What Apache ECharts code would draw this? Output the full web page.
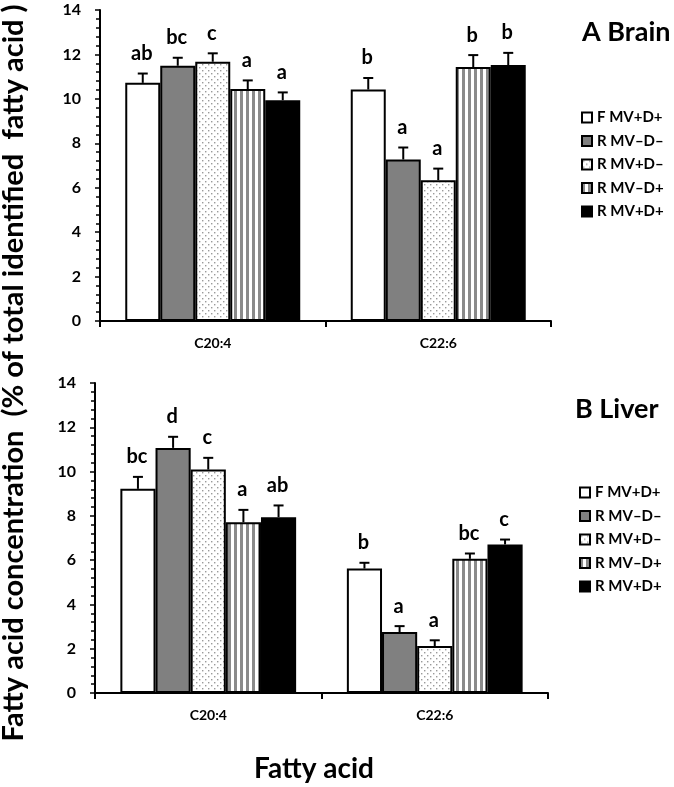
<!DOCTYPE html>
<html><head><meta charset="utf-8">
<script src="https://cdn.jsdelivr.net/npm/echarts@6/dist/echarts.min.js"></script>
<style>html,body{margin:0;padding:0;background:#fff}#c{width:674px;height:787px}</style>
</head><body><div id="c"></div>
<script>
// ---------- data ----------
const categories = ['C20:4', 'C22:6'];
const seriesNames = ['F MV+D+', 'R MV–D–', 'R MV+D–', 'R MV–D+', 'R MV+D+'];
const yMin = 0, yMax = 14, yStep = 2;

// A Brain (values per series, [C20:4, C22:6])
const brainF   = [10.72, 10.42];
const brainRmm = [11.49, 7.27];
const brainRpm = [11.67, 6.34];
const brainRmp = [10.44, 11.43];
const brainRpp = [9.94, 11.52];
const brainErrF   = [0.42, 0.52];
const brainErrRmm = [0.36, 0.54];
const brainErrRpm = [0.38, 0.52];
const brainErrRmp = [0.39, 0.54];
const brainErrRpp = [0.35, 0.55];
const brainLetF   = ['ab', 'b'];
const brainLetRmm = ['bc', 'a'];
const brainLetRpm = ['c', 'a'];
const brainLetRmp = ['a', 'b'];
const brainLetRpp = ['a', 'b'];

// B Liver
const liverF   = [9.22, 5.62];
const liverRmm = [11.07, 2.75];
const liverRpm = [10.09, 2.12];
const liverRmp = [7.71, 6.06];
const liverRpp = [7.94, 6.71];
const liverErrF   = [0.54, 0.26];
const liverErrRmm = [0.50, 0.27];
const liverErrRpm = [0.53, 0.26];
const liverErrRmp = [0.56, 0.24];
const liverErrRpp = [0.53, 0.22];
const liverLetF   = ['bc', 'b'];
const liverLetRmm = ['d', 'a'];
const liverLetRpm = ['c', 'a'];
const liverLetRmp = ['a', 'bc'];
const liverLetRpp = ['ab', 'c'];

const panelTitles = ['A Brain', 'B Liver'];
const yTitle = 'Fatty acid concentration  (% of total identified  fatty acid )';
const xTitle = 'Fatty acid';

// ---------- styles ----------
const FONT = 'Lato';
const GAP = 0.224;
function makeDots() {
  const c = document.createElement('canvas'); c.width = 6; c.height = 6;
  const g = c.getContext('2d'); g.fillStyle = '#fff'; g.fillRect(0, 0, 6, 6);
  g.fillStyle = '#9a9a9a'; g.fillRect(1, 1, 1.4, 1.4); g.fillRect(4, 4, 1.4, 1.4);
  return c;
}
function makeStripes() {
  const c = document.createElement('canvas'); c.width = 6; c.height = 4;
  const g = c.getContext('2d'); g.fillStyle = '#fff'; g.fillRect(0, 0, 6, 4);
  g.fillStyle = '#8a8a8a'; g.fillRect(0, 0, 3, 4);
  return c;
}
const fills = ['#ffffff', '#808080', { image: makeDots(), repeat: 'repeat' }, { image: makeStripes(), repeat: 'repeat' }, '#000000'];

const brainVals = [brainF, brainRmm, brainRpm, brainRmp, brainRpp];
const brainErrs = [brainErrF, brainErrRmm, brainErrRpm, brainErrRmp, brainErrRpp];
const brainLets = [brainLetF, brainLetRmm, brainLetRpm, brainLetRmp, brainLetRpp];
const liverVals = [liverF, liverRmm, liverRpm, liverRmp, liverRpp];
const liverErrs = [liverErrF, liverErrRmm, liverErrRpm, liverErrRmp, liverErrRpp];
const liverLets = [liverLetF, liverLetRmm, liverLetRpm, liverLetRmp, liverLetRpp];

const grids = [
  { left: 100, top: 10, width: 451, height: 311 },
  { left: 95, top: 383, width: 453, height: 310 }
];

function xAxisFor(i) {
  return {
    type: 'category', gridIndex: i, data: categories, boundaryGap: true,
    axisLine: { lineStyle: { color: '#000', width: 2 } },
    axisTick: { show: true, length: 6, lineStyle: { color: '#000', width: 2 } },
    axisLabel: { color: '#000', fontFamily: FONT, fontWeight: 'bold', fontSize: 14, margin: 15 }
  };
}
function yAxisFor(i) {
  return {
    type: 'value', gridIndex: i, min: yMin, max: yMax, interval: yStep,
    axisLine: { show: true, lineStyle: { color: '#000', width: 2 } },
    axisTick: { show: true, length: 5, lineStyle: { color: '#000', width: 1.5 } },
    minorTick: { show: true, splitNumber: 5, length: 4, lineStyle: { color: '#000', width: 1.5 } },
    splitLine: { show: false },
    axisLabel: { color: '#000', fontFamily: FONT, fontWeight: 'bold', fontSize: 16, margin: 19 }
  };
}

const series = [];
function addPanel(gi, vals, errs, lets) {
  vals.forEach((arr, s) => {
    series.push({
      type: 'bar', name: seriesNames[s], xAxisIndex: gi, yAxisIndex: gi,
      data: arr, barGap: '0%', barCategoryGap: (GAP * 100) + '%',
      itemStyle: { color: fills[s], borderColor: '#000', borderWidth: 2 },
      emphasis: { disabled: true }, animation: false
    });
  });
  const data = [], letters = [];
  for (let s = 0; s < vals.length; s++) {
    for (let c = 0; c < categories.length; c++) {
      data.push([c, vals[s][c], errs[s][c], s]);
      letters.push(lets[s][c]);
    }
  }
  series.push({
    type: 'custom', xAxisIndex: gi, yAxisIndex: gi, data: data, z: 10,
    encode: { x: 0, y: 1 }, clip: false, animation: false, silent: true,
    renderItem: function (params, api) {
      const cat = api.value(0), v = api.value(1), e = api.value(2), s = api.value(3);
      const base = api.coord([cat, v]);
      const top = api.coord([cat, v + e]);
      const band = api.size([1, 0])[0];
      const bw = band * (1 - GAP) / 5;
      const x = base[0] + (s - 2) * bw;
      const cap = 5;
      return {
        type: 'group', children: [
          { type: 'line', shape: { x1: x, y1: base[1], x2: x, y2: top[1] }, style: { stroke: '#000', lineWidth: 2 } },
          { type: 'line', shape: { x1: x - cap, y1: top[1], x2: x + cap, y2: top[1] }, style: { stroke: '#000', lineWidth: 2 } },
          { type: 'text', style: { x: x - 1, y: top[1] - 20, text: letters[params.dataIndex], fill: '#000',
              font: 'bold 20px ' + FONT, textAlign: 'center', textVerticalAlign: 'middle' } }
        ]
      };
    }
  });
}
addPanel(0, brainVals, brainErrs, brainLets);
addPanel(1, liverVals, liverErrs, liverLets);

function legendFor(left, top) {
  return {
    data: seriesNames, orient: 'vertical', left: left, top: top, itemWidth: 10, itemHeight: 10,
    itemGap: 8.5, selectedMode: false, icon: 'rect',
    itemStyle: { borderColor: '#000', borderWidth: 2 },
    textStyle: { color: '#000', fontFamily: FONT, fontWeight: 'bold', fontSize: 15, lineHeight: 15 }
  };
}

const option = {
  animation: false,
  grid: grids,
  xAxis: [xAxisFor(0), xAxisFor(1)],
  yAxis: [yAxisFor(0), yAxisFor(1)],
  legend: [legendFor(576, 105), legendFor(574, 480)],
  series: series,
  graphic: [
    { type: 'text', left: 582, top: 19, style: { text: panelTitles[0], font: 'bold 27px ' + FONT, fill: '#000' } },
    { type: 'text', left: 575, top: 396, style: { text: panelTitles[1], font: 'bold 27px ' + FONT, fill: '#000' } },
    { type: 'text', x: 14, y: 373, rotation: Math.PI / 2,
      style: { text: yTitle, font: 'bold 29px ' + FONT, fill: '#000', textAlign: 'center', textVerticalAlign: 'middle' } },
    { type: 'text', x: 314, y: 769,
      style: { text: xTitle, font: 'bold 28px ' + FONT, fill: '#000', textAlign: 'center', textVerticalAlign: 'middle' } }
  ]
};
const chart = echarts.init(document.getElementById('c'), null, { renderer: 'canvas' });
chart.setOption(option);
</script>
</body></html>
